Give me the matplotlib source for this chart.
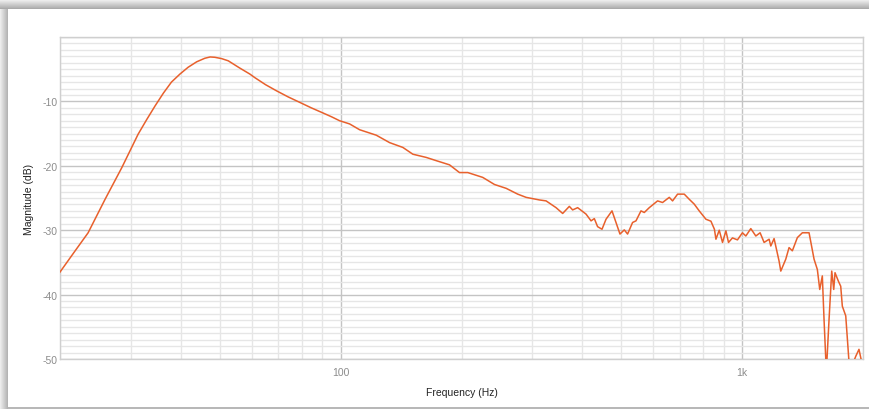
import numpy as np
import matplotlib.pyplot as plt
from matplotlib.patches import Rectangle
from matplotlib.ticker import FixedLocator, NullFormatter

# frequency response
freq = [20, 21.7, 23.5, 25.9, 28.5, 31.3, 32.9, 34.5, 36.2, 37.9,
        39.8, 41.7, 43.8, 45.9, 47.3, 48.6, 50.5, 52.5, 56.0, 59.4,
        61.1, 65.0, 69.2, 74.0, 79.1, 84.5, 90.4, 95.0, 99.4, 105.3,
        111.5, 122.7, 132.4, 142.9, 151.3, 163.4, 173.0, 186.7, 197.7, 207.3,
        225.9, 241.6, 258.4, 276.1, 289.7, 312.6, 324.9, 344.0, 357.3, 371.2,
        378.3, 389.3, 408.5, 420.4, 428.4, 436.5, 447.7, 458.1, 474.1, 485.1,
        496.3, 508.7, 518.4, 533.5, 544.0, 559.8, 570.5, 587.1, 615.7, 633.6,
        658.4, 671.0, 690.6, 717.5, 738.4, 759.8, 781.8, 812.5, 836.1, 853.0,
        860.5, 876.9, 893.6, 911.2, 924.8, 946.0, 973.5, 1001.7, 1021.4, 1051.0,
        1081.6, 1108.6, 1134.2, 1167.3, 1178.6, 1201.1, 1236.0, 1248.1, 1284.3, 1308.8,
        1333.7, 1372.6, 1412.5, 1467.9, 1510.5, 1539.3, 1560.7, 1583.9, 1599.6, 1620.8,
        1646.0, 1671.6, 1691.0, 1703.5, 1736.3, 1760.1, 1776.4, 1811.5, 1853.3, 1918.0,
        1954.4, 1985.3]
mag_db = [-36.5, -33.4, -30.4, -25.2, -20.3, -15.1, -12.8, -10.7, -8.7, -7.0,
          -5.75, -4.7, -3.85, -3.3, -3.1, -3.15, -3.35, -3.7, -4.8, -5.75,
          -6.3, -7.4, -8.35, -9.3, -10.15, -11.0, -11.8, -12.4, -13.0, -13.5,
          -14.4, -15.25, -16.4, -17.15, -18.2, -18.7, -19.2, -19.85, -21.05, -21.05,
          -21.8, -22.9, -23.5, -24.4, -24.9, -25.3, -25.45, -26.5, -27.4, -26.3,
          -26.85, -26.5, -27.5, -28.55, -28.2, -29.45, -29.85, -28.3, -27.0, -28.8,
          -30.6, -29.95, -30.6, -28.8, -28.55, -27.0, -27.25, -26.5, -25.45, -25.7,
          -24.9, -25.45, -24.4, -24.4, -25.2, -25.95, -27.0, -28.3, -28.6, -29.85,
          -31.4, -30.0, -31.9, -30.1, -31.9, -31.2, -31.5, -30.4, -30.9, -29.75,
          -30.9, -30.4, -31.9, -31.4, -32.45, -31.3, -34.8, -36.35, -34.5, -32.7,
          -33.2, -31.15, -30.4, -30.4, -34.5, -36.1, -39.2, -37.1, -43.9, -52.0,
          -43.9, -36.35, -39.2, -36.6, -37.9, -38.7, -41.8, -43.3, -52.0, -49.6,
          -48.5, -50.5]

major_x = [100, 1000]
major_x_labels = ['100', '1k']
minor_x = [20, 30, 40, 50, 60, 70, 80, 90, 200, 300, 400, 500, 600, 700, 800, 900, 2000]
y_ticks = [-50, -40, -30, -20, -10, 0]
y_labels = ['-50', '-40', '-30', '-20', '-10', '']

plt.rcParams['font.family'] = ['Liberation Sans', 'DejaVu Sans']

fig = plt.figure(figsize=(8.69, 4.10), dpi=100)
fig.patch.set_facecolor('white')

# screenshot shadow around the panel
W, H = 869.0, 410.0
def px_rect(x0, y0, w, h, color):
    fig.patches.append(Rectangle((x0 / W, 1 - (y0 + h) / H), w / W, h / H,
                                 transform=fig.transFigure, color=color,
                                 zorder=-10, lw=0))
shades = ['#f4f4f4', '#ececec', '#e4e4e4', '#dcdcdc', '#d4d4d4',
          '#cccccc', '#c4c4c4', '#bcbcbc', '#b4b4b4', '#aaaaaa']
for i, c in enumerate(shades):
    px_rect(0, i, W, 1, c)
for i, c in enumerate(shades[1:9]):
    px_rect(i, 10, 1, H - 10, c)
px_rect(8, 408, W - 8, 2, '#b8b8b8')

ax = fig.add_axes([60 / W, 1 - 360 / H, 803 / W, 322 / H])
ax.set_xscale('log')
ax.plot(freq, mag_db, color='#e8602c', lw=1.1, zorder=3)
ax.set_xlim(20, 2000)
ax.set_ylim(-50, 0)

ax.xaxis.set_major_locator(FixedLocator(major_x))
ax.set_xticklabels(major_x_labels)
ax.xaxis.set_minor_locator(FixedLocator(minor_x))
ax.xaxis.set_minor_formatter(NullFormatter())
ax.set_yticks(y_ticks)
ax.set_yticklabels(y_labels)
ax.set_yticks(np.arange(-50, 1, 1), minor=True)

ax.grid(which='major', color='#c4c4c4', lw=1.0)
ax.grid(which='minor', color='#e6e6e6', lw=1.0)
ax.set_axisbelow(True)
ax.tick_params(which='both', length=0, labelsize=7.5, labelcolor='#8c8c8c')
ax.tick_params(axis='x', pad=6)
ax.tick_params(axis='y', pad=2)
for s in ax.spines.values():
    s.set_color('#cfcfcf')
    s.set_linewidth(1.0)

ax.set_xlabel('Frequency (Hz)', fontsize=7.5, color='#222222', labelpad=7)
ax.set_ylabel('Magnitude (dB)', fontsize=7.5, color='#222222', labelpad=6)

fig.savefig('out.png', dpi=100)
